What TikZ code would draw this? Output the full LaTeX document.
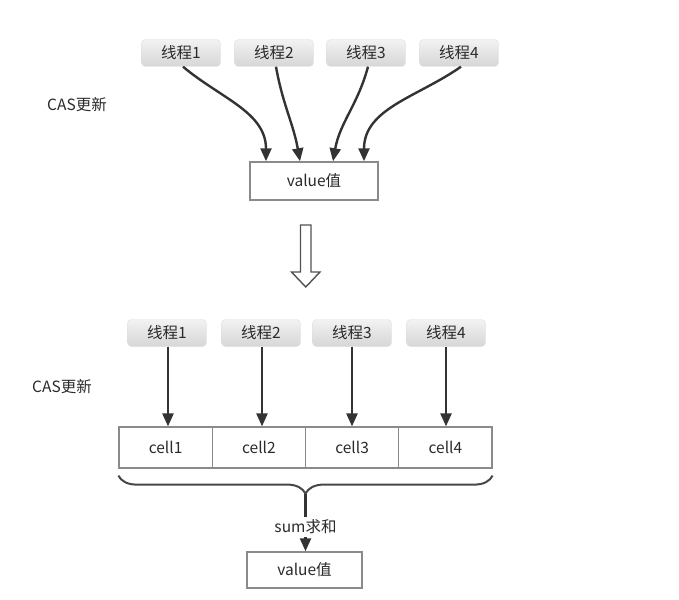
\documentclass[tikz,border=0pt]{standalone}
\usepackage{fontspec}
\newfontfamily\cjk{Noto Sans CJK SC}
\usepackage{xcolor}
\definecolor{arrowGray}{HTML}{333333}
\definecolor{boxLine}{HTML}{8A8A8A}
\definecolor{textGray}{HTML}{2A2A2A}
\usepackage{tikz}
\usetikzlibrary{positioning,arrows.meta,decorations.pathreplacing,calc}

\begin{document}
\begin{tikzpicture}[x=1pt, y=-1pt,
    every node/.style={font=\cjk\fontsize{15.5}{18}\selectfont, text=textGray},
    thread/.style={rounded corners=4pt, minimum width=79pt, minimum height=27pt,
                   top color=gray!10, bottom color=gray!32, draw=gray!25, inner sep=0pt},
    valbox/.style={draw=boxLine, line width=1.5pt, fill=white, inner sep=0pt},
    cell/.style={draw=boxLine, line width=1.2pt, minimum width=93.25pt,
                 minimum height=41pt, inner sep=0pt},
    arr/.style={-{Triangle[length=13pt, width=11pt]}, line width=2.4pt, draw=arrowGray},
    brace/.style={decorate, decoration={brace, mirror, amplitude=18pt},
                  line width=2pt, draw=arrowGray!90}]
  \useasboundingbox (0,0) rectangle (679,599);
  \node[thread] (t1) at (181,53) {线程1};
  \node[thread] (t2) at (274,53) {线程2};
  \node[thread] (t3) at (366,53) {线程3};
  \node[thread] (t4) at (459,53) {线程4};
  \node (cas1) at (77,105) {CAS更新};
  \node[valbox, minimum width=128pt, minimum height=38pt] (val) at (314,181) {value值};
  \draw[arr] ([xshift=2pt]t1.south) to[out=-40, in=90] ([xshift=-48pt]val.north);
  \draw[arr] ([xshift=2pt]t2.south) to[out=-80, in=100] ([xshift=-14pt]val.north);
  \draw[arr] ([xshift=2pt]t3.south) to[out=-105, in=80] ([xshift=19pt]val.north);
  \draw[arr] ([xshift=2pt]t4.south) to[out=-145, in=90] ([xshift=50pt]val.north);
  \draw[line width=1.4pt, draw=arrowGray!85, line join=miter]
    (300.5,225) -- (311,225) -- (311,272) -- (320,272) -- (305.75,287)
    -- (291.5,272) -- (300.5,272) -- cycle;
  \node[thread] (b1) at (167,333) {线程1};
  \node[thread] (b2) at (261,333) {线程2};
  \node[thread] (b3) at (352,333) {线程3};
  \node[thread] (b4) at (446,333) {线程4};
  \node (cas2) at (62,387) {CAS更新};
  \node[cell] (c1) at (165.6,447.5) {cell1};
  \node[cell] (c2) at (258.9,447.5) {cell2};
  \node[cell] (c3) at (352.1,447.5) {cell3};
  \node[cell] (c4) at (445.4,447.5) {cell4};
  \draw[arr] ([xshift=1pt]b1.south) -- ([xshift=1pt]b1.south |- c1.north);
  \draw[arr] ([xshift=1pt]b2.south) -- ([xshift=1pt]b2.south |- c2.north);
  \draw[arr] (b3.south) -- (b3.south |- c3.north);
  \draw[arr] (b4.south) -- (b4.south |- c4.north);
  \draw[brace] ([yshift=-7pt]c1.south west) -- ([yshift=-7pt]c4.south east);
  \coordinate (tip) at ($([yshift=-25pt]c1.south west)!0.5!([yshift=-25pt]c4.south east)$);
  \node[valbox, minimum width=115pt, minimum height=36pt] (sumv) at (304.5,570) {value值};
  \draw[arr] (tip) -- (tip |- sumv.north)
    node[pos=0.58, fill=white, inner sep=3pt] {sum求和};
\end{tikzpicture}
\end{document}
